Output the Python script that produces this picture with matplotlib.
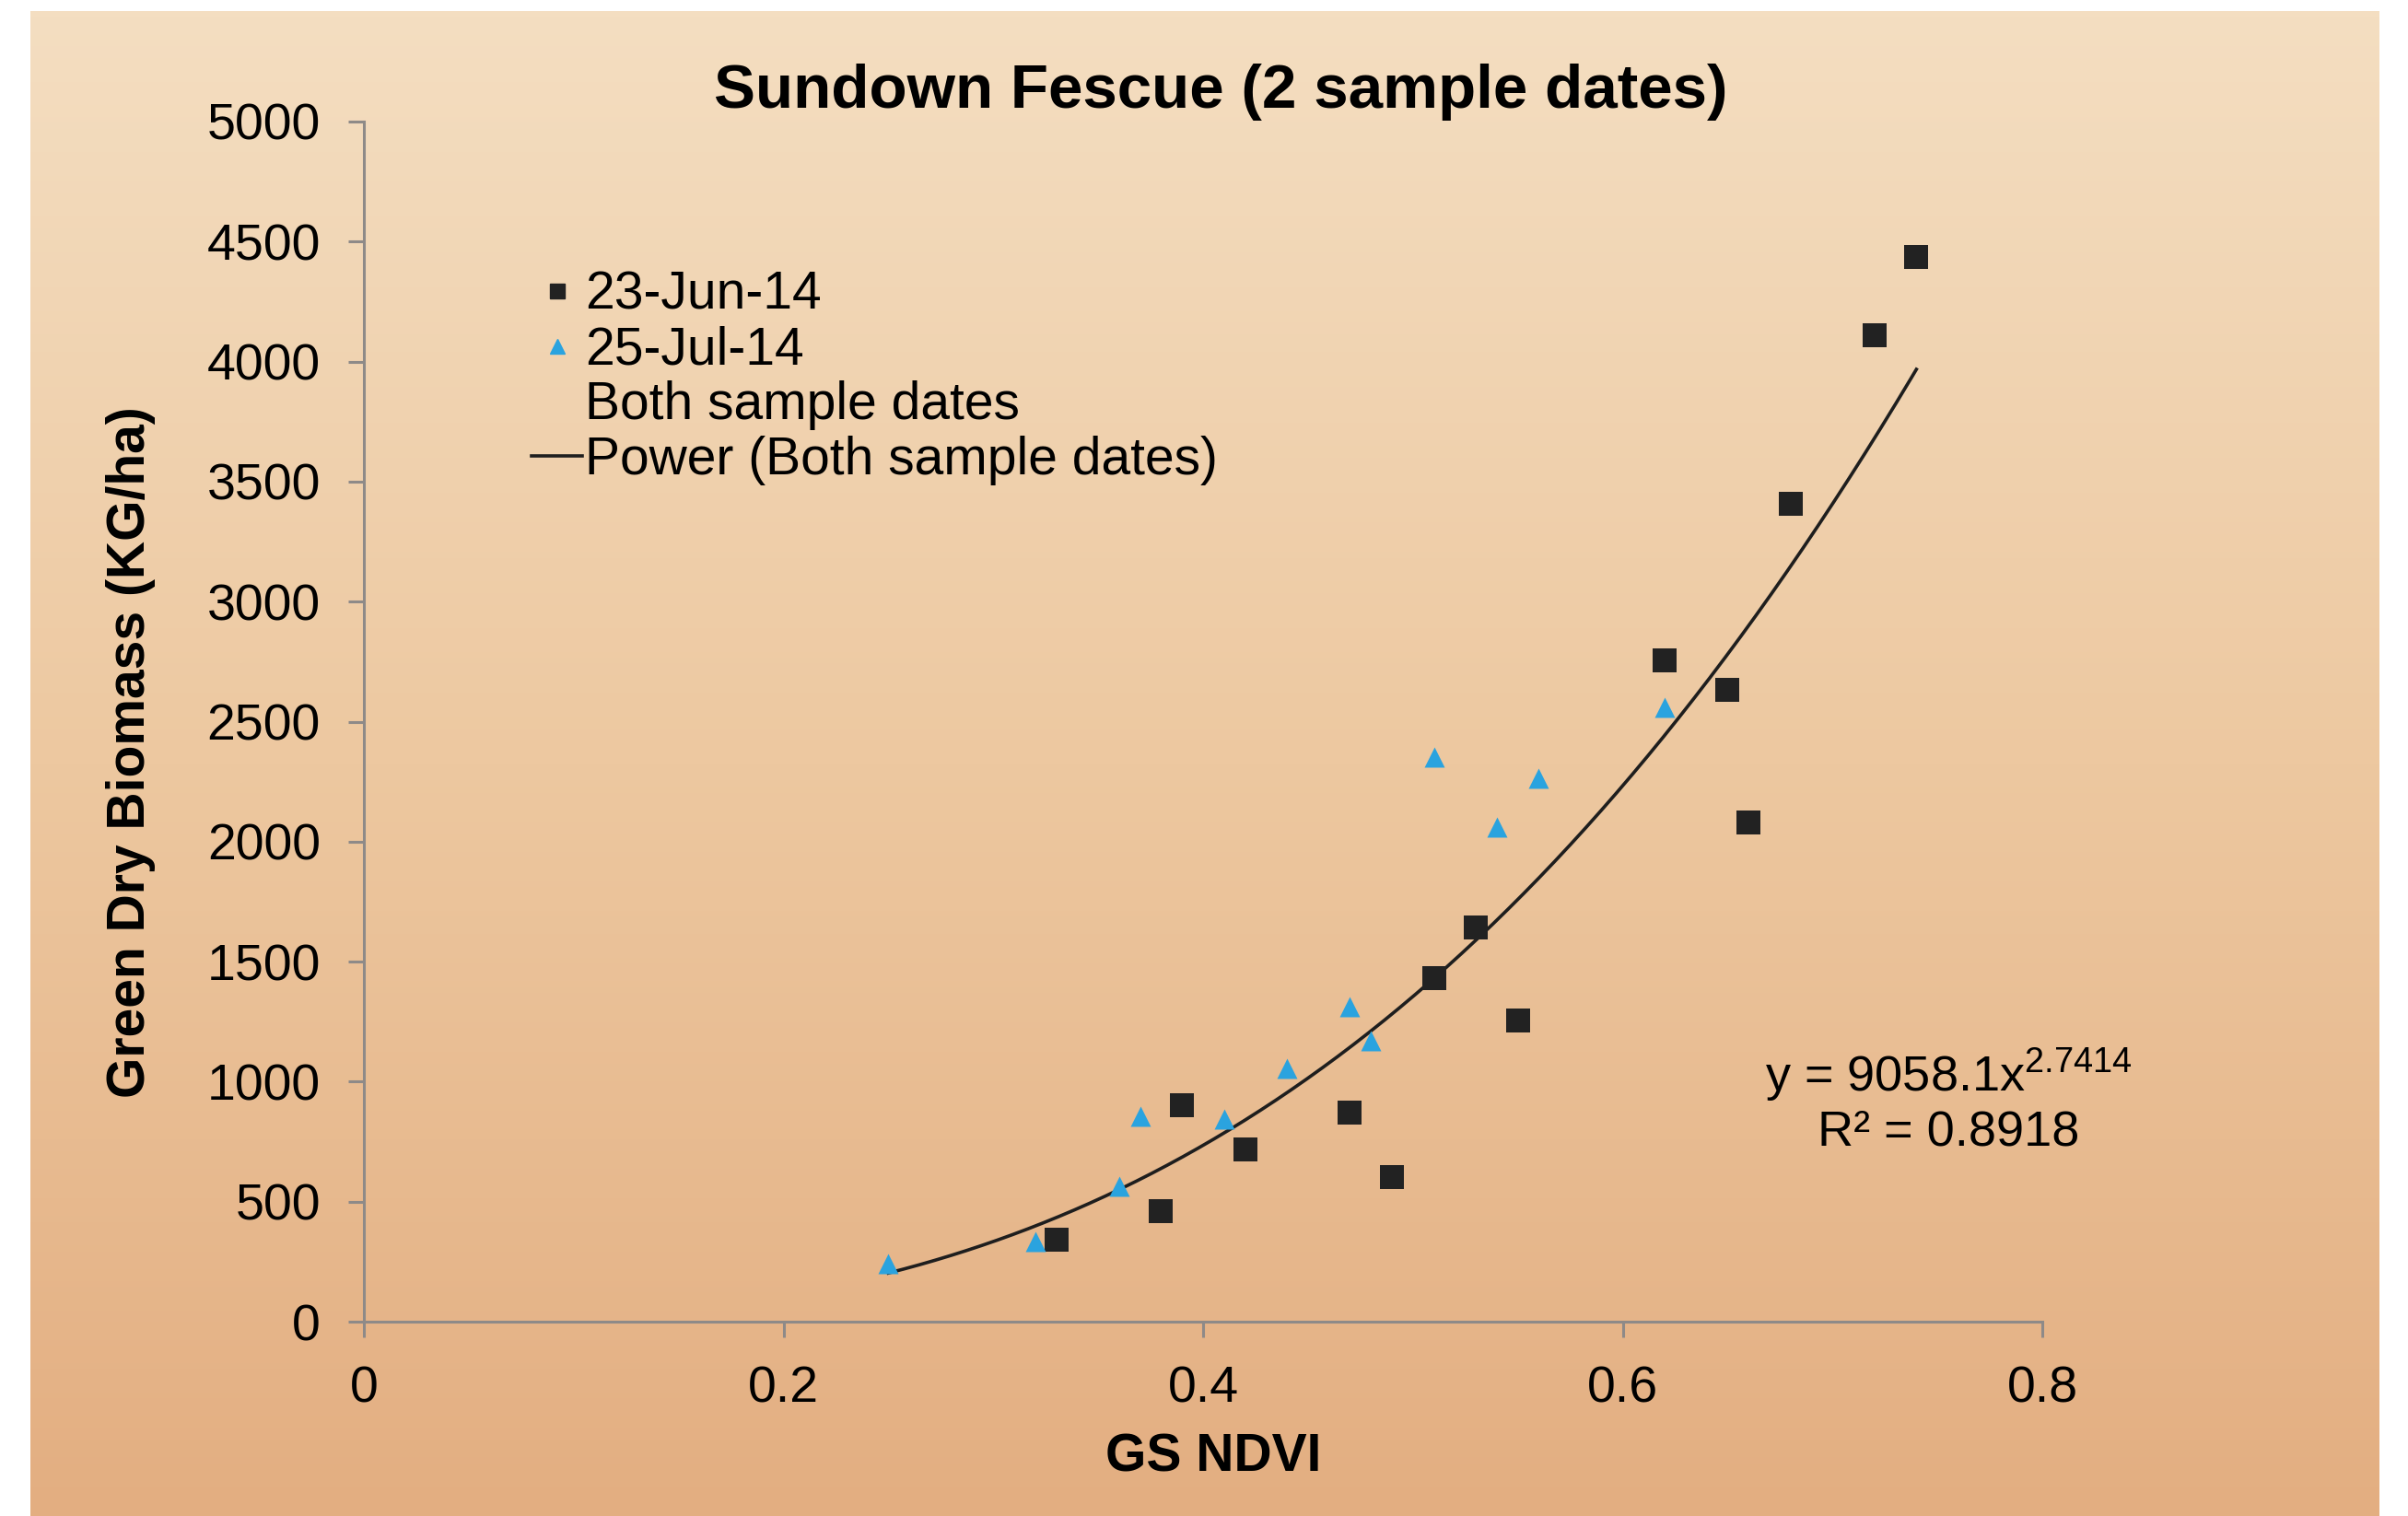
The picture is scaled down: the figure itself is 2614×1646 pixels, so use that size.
import numpy as np
import matplotlib
matplotlib.use("Agg")
import matplotlib.pyplot as plt
from matplotlib.lines import Line2D
from matplotlib.colors import LinearSegmentedColormap
from matplotlib import font_manager as fm

# ---------------- data ----------------
jun_x = [0.33, 0.38, 0.39, 0.42, 0.47, 0.49, 0.51, 0.53, 0.55, 0.62, 0.65, 0.66, 0.68, 0.72, 0.74]
jun_y = [340, 460, 900, 716, 870, 601, 1432, 1643, 1253, 2756, 2634, 2078, 3408, 4111, 4437]

jul_x = [0.25, 0.32, 0.36, 0.37, 0.41, 0.44, 0.47, 0.48, 0.51, 0.54, 0.56, 0.62]
jul_y = [243, 332, 563, 857, 844, 1055, 1311, 1170, 2353, 2059, 2264, 2558]

fit_a = 9058.1
fit_b = 2.7414
fit_r2 = 0.8918

x_ticks = [0, 0.2, 0.4, 0.6, 0.8]
x_ticklabels = ["0", "0.2", "0.4", "0.6", "0.8"]
y_ticks = [0, 500, 1000, 1500, 2000, 2500, 3000, 3500, 4000, 4500, 5000]

title = "Sundown Fescue (2 sample dates)"
xlabel = "GS NDVI"
ylabel = "Green Dry Biomass (KG/ha)"
legend_labels = ["23-Jun-14", "25-Jul-14", "Both sample dates", "Power (Both sample dates)"]

# ---------------- fonts ----------------
names = {f.name for f in fm.fontManager.ttflist}
narrow = "Liberation Sans Narrow" if "Liberation Sans Narrow" in names else "Liberation Sans"
regular = "Liberation Sans"
plt.rcParams['mathtext.fontset'] = 'custom'
plt.rcParams['mathtext.rm'] = narrow
plt.rcParams['mathtext.it'] = narrow

W, H = 2614, 1646
fig = plt.figure(figsize=(W / 100, H / 100), dpi=100, facecolor="white")

# gradient background panel
bg = fig.add_axes([33 / W, 0, (2583 - 33) / W, (H - 12) / H])
cmap = LinearSegmentedColormap.from_list("bg", ["#F4DEC1", "#EDC8A0", "#E3AE81"])
grad = np.linspace(0, 1, 256).reshape(-1, 1)
bg.imshow(grad, aspect="auto", cmap=cmap, extent=[0, 1, 0, 1], origin="upper")
bg.set_axis_off()

ax = fig.add_axes([395 / W, 1 - 1435 / H, (2217 - 395) / W, (1435 - 132) / H])
ax.set_facecolor("none")
ax.set_xlim(0, 0.8)
ax.set_ylim(0, 5000)

for s in ["top", "right"]:
    ax.spines[s].set_visible(False)
for s in ["left", "bottom"]:
    ax.spines[s].set_color("#8E8A88")
    ax.spines[s].set_linewidth(2.2)

ax.set_xticks(x_ticks)
ax.set_xticklabels(x_ticklabels)
ax.set_yticks(y_ticks)
ax.tick_params(axis="both", direction="out", length=12, width=2.2, color="#8E8A88",
               labelsize=40, labelcolor="black")
ax.tick_params(axis="y", pad=22)
ax.tick_params(axis="x", pad=22)
for lab in ax.get_xticklabels() + ax.get_yticklabels():
    lab.set_fontfamily(narrow)

# fit curve
xf = np.linspace(min(jul_x + jun_x), max(jul_x + jun_x), 200)
ax.plot(xf, fit_a * xf ** fit_b, color="#1E1E1E", lw=2.6, zorder=2)

ax.scatter(jun_x, jun_y, marker="s", s=340, color="#222222", zorder=3, linewidths=0)
ax.scatter(jul_x, jul_y, marker="^", s=250, color="#2AA3DF", zorder=3, linewidths=0)

# legend
handles = [
    Line2D([], [], ls="none", marker="s", markersize=12, color="#222222"),
    Line2D([], [], ls="none", marker="^", markersize=11, color="#2AA3DF"),
    Line2D([], [], ls="none", marker=None),
    Line2D([], [], color="#1E1E1E", lw=2.6),
]
leg = fig.legend(handles, legend_labels, loc="upper left", bbox_to_anchor=(577 / W, 1 - 294 / H),
                 frameon=False, prop={"family": narrow, "size": 41}, handlelength=0.97,
                 handletextpad=0.05, labelspacing=0.1, borderpad=0, borderaxespad=0)

# equation
fig.text(2115 / W, 1 - 1167 / H, r"y = 9058.1x$^{2.7414}$", ha="center", va="center",
         fontsize=39, family=narrow)
fig.text(2115 / W, 1 - 1230 / H, "R² = 0.8918", ha="center", va="center",
         fontsize=39, family=narrow)

# title & labels
fig.text(1325 / W, 1 - 100 / H, title, ha="center", va="center", fontsize=48.5,
         fontweight="bold", family=narrow)
fig.text(1317 / W, 1 - 1582 / H, xlabel, ha="center", va="center", fontsize=41,
         fontweight="bold", family=regular)
fig.text(142 / W, 1 - 817 / H, ylabel, ha="center", va="center", rotation=90,
         fontsize=41, fontweight="bold", family=narrow)

fig.savefig("out.png", dpi=100, facecolor="white")
